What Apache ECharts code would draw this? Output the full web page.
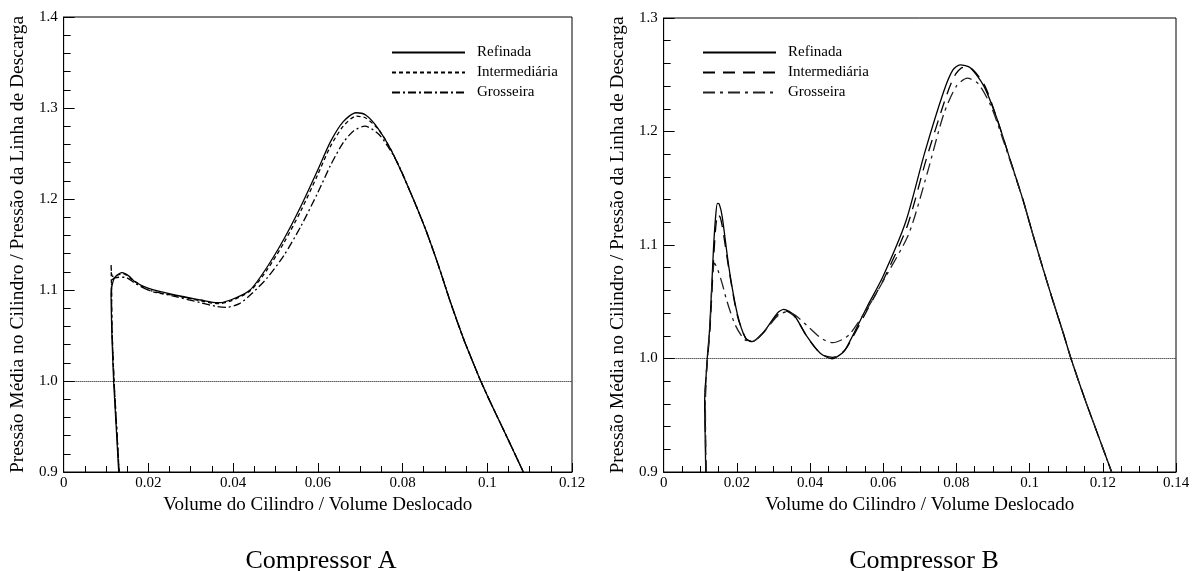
<!DOCTYPE html>
<html>
<head>
<meta charset="utf-8">
<script src="https://cdn.jsdelivr.net/npm/echarts@6/dist/echarts.min.js"></script>
<style>
  html, body { margin: 0; padding: 0; background: #fff; }
  #wrap { position: relative; width: 1198px; height: 571px; }
  #chartA { position: absolute; left: 0; top: 0; width: 600px; height: 571px; }
  #chartB { position: absolute; left: 600px; top: 0; width: 598px; height: 571px; }
</style>
</head>
<body>
<div id="wrap"><div id="chartA"></div><div id="chartB"></div></div>
<script>
// ---------- data ----------
const seriesNames = ['Refinada', 'Intermediária', 'Grosseira'];
const panelTitles = ['Compressor A', 'Compressor B'];
const xAxisTitle = 'Volume do Cilindro / Volume Deslocado';
const yAxisTitle = 'Pressão Média no Cilindro / Pressão da Linha de Descarga';
const xTicksA = ['0', '0.02', '0.04', '0.06', '0.08', '0.1', '0.12'];
const xTicksB = ['0', '0.02', '0.04', '0.06', '0.08', '0.1', '0.12', '0.14'];
const yTicksA = ['0.9', '1.0', '1.1', '1.2', '1.3', '1.4'];
const yTicksB = ['0.9', '1.0', '1.1', '1.2', '1.3'];
const refLevel = 1.0;

// Compressor A  [volume, pressure]
const refinadaA = [
  [0.0130,0.900],[0.0124,0.950],[0.0118,1.000],[0.0114,1.050],[0.0112,1.097],
  [0.0117,1.110],[0.0123,1.115],[0.0138,1.119],[0.0155,1.115],[0.0168,1.109],
  [0.0199,1.102],[0.0262,1.0945],[0.0324,1.089],[0.0363,1.086],[0.0394,1.089],
  [0.0440,1.100],[0.0480,1.125],[0.0520,1.156],[0.0560,1.192],[0.0600,1.232],
  [0.0630,1.263],[0.0660,1.285],[0.0690,1.2948],[0.0713,1.2923],
  [0.0742,1.2777],[0.0773,1.2538],[0.0813,1.2135],[0.0852,1.1696],[0.0883,1.1293],
  [0.0914,1.0854],[0.0945,1.045],[0.0965,1.022],[0.0984,1.0005],[0.1005,0.979],
  [0.1031,0.9535],[0.1058,0.927],[0.1085,0.900]
];
const intermediariaA = [
  [0.0131,0.900],[0.0125,0.950],[0.0119,1.000],[0.0114,1.060],[0.0113,1.100],
  [0.0112,1.128],[0.0115,1.115],[0.0125,1.116],[0.0140,1.118],[0.0160,1.112],
  [0.0200,1.100],[0.0220,1.097],[0.0262,1.094],[0.0324,1.088],[0.0365,1.085],
  [0.0395,1.088],[0.0440,1.099],[0.0480,1.122],[0.0520,1.152],[0.0560,1.187],
  [0.0600,1.227],[0.0630,1.258],[0.0660,1.280],[0.0690,1.291],[0.0713,1.289],
  [0.0744,1.276],[0.0773,1.2538],[0.0813,1.2135],[0.0852,1.1696],[0.0883,1.1293],
  [0.0914,1.0854],[0.0945,1.045],[0.0965,1.022],[0.0984,1.0005],[0.1005,0.979],
  [0.1031,0.9535],[0.1058,0.927],[0.1085,0.900]
];
const grosseiraA = [
  [0.0131,0.900],[0.0125,0.950],[0.0119,1.000],[0.0114,1.060],[0.0113,1.105],
  [0.0116,1.112],[0.0130,1.114],[0.0145,1.114],[0.0170,1.107],[0.0200,1.100],
  [0.0262,1.093],[0.0324,1.086],[0.0360,1.082],[0.0385,1.081],[0.0415,1.085],
  [0.0445,1.0964],[0.0480,1.113],[0.0520,1.138],[0.0560,1.170],[0.0600,1.207],
  [0.0630,1.237],[0.0660,1.262],[0.0685,1.275],[0.0711,1.280],[0.0742,1.272],
  [0.0765,1.258],[0.0790,1.238],[0.0813,1.2135],[0.0852,1.1696],[0.0883,1.1293],
  [0.0914,1.0854],[0.0945,1.045],[0.0965,1.022],[0.0984,1.0005],[0.1005,0.979],
  [0.1031,0.9535],[0.1058,0.927],[0.1085,0.900]
];

// Compressor B  [volume, pressure]
const refinadaB = [
  [0.0115,0.900],[0.0113,0.940],[0.0112,0.960],[0.0113,0.972],[0.0116,0.985],
  [0.0119,1.000],[0.0126,1.028],[0.0136,1.0956],[0.0142,1.125],[0.0147,1.1367],
  [0.0152,1.136],[0.0160,1.125],[0.0178,1.081],[0.0201,1.0398],[0.0224,1.0178],
  [0.0242,1.0148],[0.0274,1.0236],[0.0310,1.0398],[0.0328,1.0433],[0.0356,1.0383],
  [0.0392,1.0192],[0.0428,1.0046],[0.0460,0.9998],[0.0492,1.006],[0.0510,1.016],
  [0.0557,1.0463],[0.0599,1.072],[0.0661,1.120],[0.0713,1.181],[0.0765,1.235],
  [0.0790,1.254],[0.0810,1.2587],[0.0838,1.2562],[0.0875,1.240],[0.0910,1.212],
  [0.0945,1.177],[0.0982,1.1396],[0.1008,1.1103],[0.1035,1.0809],[0.1063,1.0515],
  [0.1092,1.0222],[0.1113,1.000],[0.1152,0.9633],[0.1187,0.9325],[0.1224,0.900]
];
const intermediariaB = [
  [0.0116,0.900],[0.0113,0.960],[0.0116,0.985],[0.0120,1.000],[0.0127,1.028],
  [0.0137,1.090],[0.0143,1.118],[0.0149,1.127],[0.0155,1.124],[0.0162,1.113],
  [0.0180,1.075],[0.0202,1.037],[0.0225,1.0175],[0.0243,1.0150],[0.0275,1.0236],
  [0.0311,1.0385],[0.0332,1.0420],[0.0358,1.037],[0.0394,1.018],[0.0430,1.004],
  [0.0462,1.001],[0.0494,1.007],[0.0512,1.016],[0.0560,1.045],[0.0603,1.071],
  [0.0666,1.117],[0.0718,1.176],[0.0770,1.229],[0.0795,1.249],[0.0818,1.2565],
  [0.0845,1.2545],[0.0878,1.240],[0.0910,1.212],[0.0945,1.177],[0.0982,1.1396],
  [0.1008,1.1103],[0.1035,1.0809],[0.1063,1.0515],[0.1092,1.0222],[0.1113,1.000],
  [0.1152,0.9633],[0.1187,0.9325],[0.1224,0.900]
];
const grosseiraB = [
  [0.0116,0.900],[0.0114,0.960],[0.0117,0.985],[0.0120,1.000],[0.0127,1.030],
  [0.0133,1.070],[0.0139,1.0839],[0.0146,1.080],[0.0160,1.066],[0.0172,1.0515],
  [0.0195,1.030],[0.0220,1.017],[0.0242,1.015],[0.0275,1.024],[0.0310,1.037],
  [0.0335,1.041],[0.0360,1.038],[0.0395,1.028],[0.0430,1.018],[0.0462,1.0139],
  [0.0490,1.017],[0.0510,1.022],[0.0560,1.046],[0.0603,1.070],[0.0670,1.110],
  [0.0720,1.163],[0.0765,1.215],[0.0800,1.240],[0.0830,1.247],[0.0860,1.242],
  [0.0895,1.222],[0.0925,1.195],[0.0955,1.166],[0.0982,1.1396],[0.1008,1.1103],
  [0.1035,1.0809],[0.1063,1.0515],[0.1092,1.0222],[0.1113,1.000],[0.1152,0.9633],
  [0.1187,0.9325],[0.1224,0.900]
];

// ---------- styling / building ----------
const FONT = "'Liberation Serif', 'Times New Roman', serif";

function buildOption(cfg) {
  const lineW = 1.3;
  return {
    animation: false,
    backgroundColor: '#fff',
    textStyle: { fontFamily: FONT, color: '#000' },
    title: {
      text: cfg.title,
      left: cfg.titleX,
      top: 543,
      textAlign: 'center',
      textStyle: { fontFamily: FONT, fontSize: 26, fontWeight: 'normal', color: '#000' }
    },
    legend: {
      orient: 'vertical',
      left: cfg.legendLeft,
      top: 40,
      itemWidth: 73,
      itemHeight: 14,
      itemGap: 5,
      selectedMode: false,
      data: seriesNames,
      itemStyle: { opacity: 0 },
      textStyle: { fontFamily: FONT, fontSize: 15, color: '#000', padding: [0, 0, 0, 7] }
    },
    grid: {
      left: cfg.grid.left, top: cfg.grid.top, width: cfg.grid.width, height: cfg.grid.height,
      show: true, borderColor: '#000', borderWidth: 1, backgroundColor: 'transparent'
    },
    xAxis: {
      type: 'value',
      min: 0, max: cfg.xMax, interval: 0.02,
      name: xAxisTitle,
      nameLocation: 'middle',
      nameGap: 10,
      nameTextStyle: { fontFamily: FONT, fontSize: 19, color: '#000' },
      axisLine: { show: true, onZero: false, lineStyle: { color: '#000', width: 1 } },
      axisTick: { show: true, inside: true, length: 9, lineStyle: { color: '#000', width: 1 } },
      minorTick: { show: true, splitNumber: 4, length: 6, lineStyle: { color: '#000', width: 1 } },
      splitLine: { show: false },
      minorSplitLine: { show: false },
      axisLabel: {
        fontFamily: FONT, fontSize: 15, color: '#000', margin: 4,
        formatter: v => cfg.xTicks[Math.round(v / 0.02)] ?? ''
      }
    },
    yAxis: {
      type: 'value',
      min: 0.9, max: cfg.yMax, interval: 0.1,
      name: yAxisTitle,
      nameLocation: 'middle',
      nameRotate: 90,
      nameGap: 31,
      nameTextStyle: { fontFamily: FONT, fontSize: 19.5, color: '#000' },
      axisLine: { show: true, onZero: false, lineStyle: { color: '#000', width: 1 } },
      axisTick: { show: true, inside: true, length: 11, lineStyle: { color: '#000', width: 1 } },
      minorTick: { show: true, splitNumber: 5, length: 7, lineStyle: { color: '#000', width: 1 } },
      splitLine: { show: false },
      minorSplitLine: { show: false },
      axisLabel: {
        fontFamily: FONT, fontSize: 15, color: '#000', margin: 6,
        formatter: v => cfg.yTicks[Math.round((v - 0.9) / 0.1)] ?? ''
      }
    },
    series: [
      {
        name: seriesNames[0], type: 'line', data: cfg.data[0],
        symbol: 'none', showSymbol: false, smooth: 0.25, silent: true,
        lineStyle: { color: '#000', width: lineW, type: 'solid' },
        itemStyle: { color: '#000' },
        markLine: {
          silent: true, symbol: 'none', label: { show: false },
          lineStyle: { color: '#000', width: 1, type: 'dotted' },
          data: [{ yAxis: refLevel }]
        }
      },
      {
        name: seriesNames[1], type: 'line', data: cfg.data[1],
        symbol: 'none', showSymbol: false, smooth: 0.25, silent: true,
        lineStyle: { color: '#000', width: lineW, type: cfg.dash1 },
        itemStyle: { color: '#000' }
      },
      {
        name: seriesNames[2], type: 'line', data: cfg.data[2],
        symbol: 'none', showSymbol: false, smooth: 0.25, silent: true,
        lineStyle: { color: cfg.color2, width: lineW, type: cfg.dash2 },
        itemStyle: { color: cfg.color2 }
      }
    ]
  };
}

const chartA = echarts.init(document.getElementById('chartA'), null, { renderer: 'canvas' });
chartA.setOption(buildOption({
  title: panelTitles[0], titleX: 316,
  legendLeft: 386,
  grid: { left: 60, top: 17, width: 512, height: 455 },
  xMax: 0.12, yMax: 1.4, xTicks: xTicksA, yTicks: yTicksA,
  data: [refinadaA, intermediariaA, grosseiraA],
  dash1: [4, 3], dash2: [8, 3, 2, 3], color2: '#000'
}));

const chartB = echarts.init(document.getElementById('chartB'), null, { renderer: 'canvas' });
chartB.setOption(buildOption({
  title: panelTitles[1], titleX: 319,
  legendLeft: 97,
  grid: { left: 63, top: 18, width: 513, height: 454 },
  xMax: 0.14, yMax: 1.3, xTicks: xTicksB, yTicks: yTicksB,
  data: [refinadaB, intermediariaB, grosseiraB],
  dash1: [12, 8], dash2: [12, 5, 3, 5], color2: '#222'
}));
</script>
</body>
</html>
